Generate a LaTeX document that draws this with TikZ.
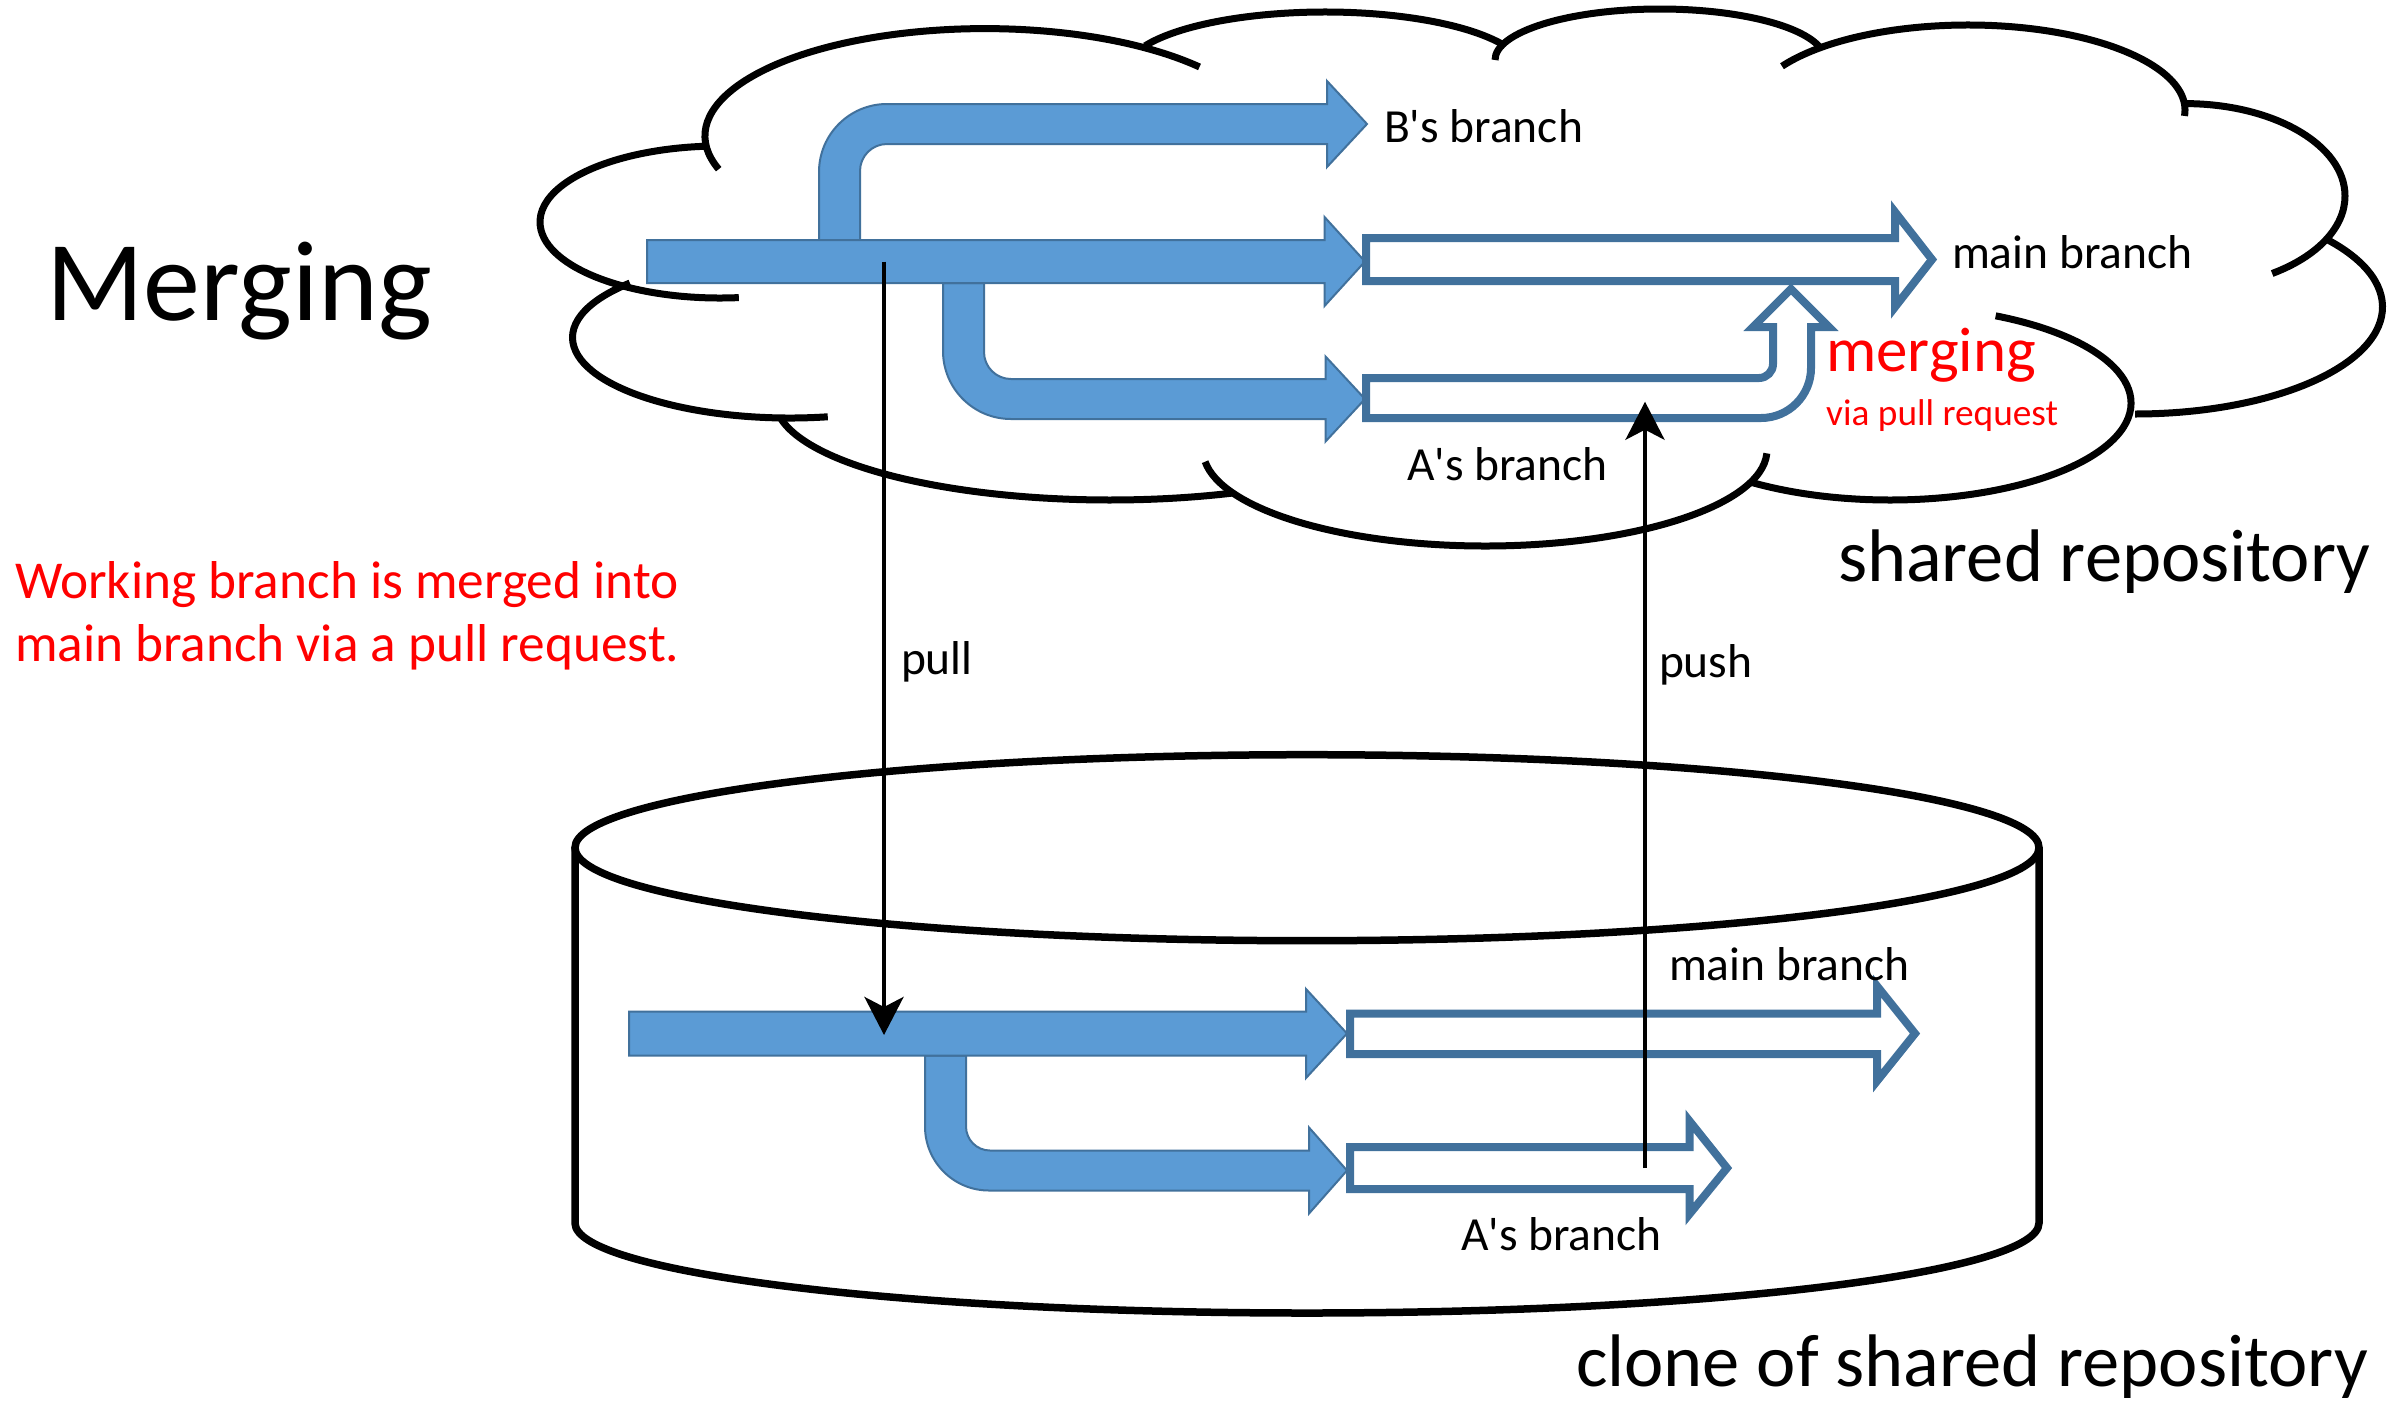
\documentclass[tikz,border=0pt]{standalone}
\usepackage{fontspec}
\setmainfont{Carlito}[Ligatures=TeXOff]
\usetikzlibrary{arrows.meta}
\definecolor{bluefill}{HTML}{5B9BD5}
\definecolor{blueline}{HTML}{41719C}
\begin{document}
\begin{tikzpicture}[x=1pt,y=-1pt,
  cloudline/.style={line width=7pt},
  bluearrow/.style={fill=bluefill, draw=blueline, line width=2pt, line join=miter},
  hollowarrow/.style={fill=white, draw=blueline, line width=8pt, line join=miter, miter limit=10},
  cylline/.style={line width=7.5pt},
  flowline/.style={line width=4.5pt, -{Stealth[length=38pt,width=39pt,inset=10pt]}},
  lbl/.style={anchor=base west, inner sep=0pt, outer sep=0pt, font=\fontsize{47.5}{56}\selectfont},
  biglbl/.style={anchor=base west, inner sep=0pt, outer sep=0pt, font=\fontsize{74.5}{88}\selectfont},
  notelbl/.style={anchor=base west, inner sep=0pt, outer sep=0pt, text=red, font=\fontsize{53.3}{63}\selectfont},
]
\useasboundingbox (0,0) rectangle (2404,1401);
\fill[white] (0,0) rectangle (2404,1401);

% ---------- cloud (shared repository) ----------
\draw[cloudline] (985,136) ++(162:280 and 107.4) arc[start angle=162,end angle=320,x radius=280,y radius=107.4];
\draw[cloudline] (1325,72) ++(205.8:200 and 60) arc[start angle=205.8,end angle=334.2,x radius=200,y radius=60];
\draw[cloudline] (1660,60) ++(180:165 and 51) arc[start angle=180,end angle=346,x radius=165,y radius=51];
\draw[cloudline] (1968,110) ++(211:217 and 85) arc[start angle=211,end angle=364,x radius=217,y radius=85];
\draw[cloudline] (2185,196) ++(270:160 and 92.4) arc[start angle=270,end angle=417,x radius=160,y radius=92.4];
\draw[cloudline] (2135,307) ++(320:247.5 and 107) arc[start angle=320,end angle=450,x radius=247.5,y radius=107];
\draw[cloudline] (1890,403) ++(-64:241 and 97) arc[start angle=-64,end angle=125.5,x radius=241,y radius=97];
\draw[cloudline] (1485,450) ++(2:282 and 96) arc[start angle=2,end angle=173,x radius=282,y radius=96];
\draw[cloudline] (1110,400) ++(68.6:335 and 100) arc[start angle=68.6,end angle=170,x radius=335,y radius=100];
\draw[cloudline] (790,337.5) ++(80:217.5 and 80.5) arc[start angle=80,end angle=222.6,x radius=217.5,y radius=80.5];
\draw[cloudline] (720,222) ++(84:180 and 76) arc[start angle=84,end angle=266,x radius=180,y radius=76];

% ---------- cylinder (clone) ----------
\draw[cylline] (1307,847.7) ellipse[x radius=732, y radius=93];
\draw[cylline] (575,847.7) -- (575,1223) arc[start angle=180,end angle=0,x radius=732,y radius=90] -- (2039,847.7);

% ---------- top blue arrows ----------
\draw[bluearrow] (819,240) -- (819,172) arc[start angle=180,end angle=270,radius=68]
  -- (1327,104) -- (1327,81) -- (1367,124) -- (1327,167) -- (1327,144) -- (887,144)
  arc[start angle=270,end angle=180,radius=27] -- (860,240) -- cycle;
\draw[bluearrow] (943,283) -- (943,351) arc[start angle=180,end angle=90,radius=68]
  -- (1325.5,419) -- (1325.5,441.5) -- (1365,399) -- (1325.5,356.5) -- (1325.5,379) -- (1011,379)
  arc[start angle=90,end angle=180,radius=27] -- (984,283) -- cycle;
\draw[bluearrow] (647,240) -- (1324.5,240) -- (1324.5,217) -- (1365,261.5) -- (1324.5,306) -- (1324.5,283) -- (647,283) -- cycle;

% ---------- top hollow arrows ----------
\draw[hollowarrow] (1366,238) -- (1895,238) -- (1895,212) -- (1932,259.5) -- (1895,307) -- (1895,281) -- (1366,281) -- cycle;
\draw[hollowarrow] (1366,378) -- (1759,378) arc[start angle=90,end angle=0,radius=14]
  -- (1773,327) -- (1753,327) -- (1791,289) -- (1829,327) -- (1811,327) -- (1811,368)
  arc[start angle=0,end angle=90,radius=50] -- (1366,418) -- cycle;

% ---------- bottom blue arrows ----------
\draw[bluearrow] (925,1055.5) -- (925,1126.5) arc[start angle=180,end angle=90,radius=64]
  -- (1309,1190.5) -- (1309,1213.5) -- (1347,1170.5) -- (1309,1127.5) -- (1309,1150.5) -- (990,1150.5)
  arc[start angle=90,end angle=180,radius=24] -- (966,1055.5) -- cycle;
\draw[bluearrow] (629,1011.5) -- (1306,1011.5) -- (1306,989) -- (1347,1033.5) -- (1306,1078) -- (1306,1055.5) -- (629,1055.5) -- cycle;

% ---------- bottom hollow arrows ----------
\draw[hollowarrow] (1350,1013.5) -- (1877,1013.5) -- (1877,986) -- (1915,1033.5) -- (1877,1081) -- (1877,1054) -- (1350,1054) -- cycle;
\draw[hollowarrow] (1350,1147) -- (1689.5,1147) -- (1689.5,1121) -- (1727,1168) -- (1689.5,1214) -- (1689.5,1189) -- (1350,1189) -- cycle;

% ---------- pull / push ----------
\coordinate (pullstart) at (884,261.5);
\coordinate (pullend) at (884,1035);
\coordinate (pushstart) at (1645,1168);
\coordinate (pushend) at (1645,401.7);
\draw[flowline] (pullstart) -- (pullend);
\draw[flowline] (pushstart) -- (pushend);

% ---------- texts ----------
\node[anchor=base west, inner sep=0pt, font=\fontsize{114}{130}\selectfont] (title) at (46,320) {Merging};
\node[notelbl] (note1) at (15,598.3) {Working branch is merged into};
\node[notelbl] (note2) at (15,661.7) {main branch via a pull request.};
\node[lbl] (bbranch) at (1384,142) {B's branch};
\node[lbl] (mainTop) at (1952,268) {main branch};
\node[lbl] (aTop) at (1407,480.4) {A's branch};
\node[anchor=base west, inner sep=0pt, text=red, font=\fontsize{63}{74}\selectfont] (merging) at (1826,371.4) {merging};
\node[anchor=base west, inner sep=0pt, text=red, font=\fontsize{37.3}{44}\selectfont] (viapr) at (1826,425) {via pull request};
\node[biglbl] (shared) at (1838,581.7) {shared repository};
\node[lbl] (pulllbl) at (901,674.6) {pull};
\node[lbl] (pushlbl) at (1659,677.6) {push};
\node[lbl] (mainBot) at (1669,980) {main branch};
\node[lbl] (aBot) at (1461,1250) {A's branch};
\node[biglbl] (clone) at (1576,1386.7) {clone of shared repository};
\end{tikzpicture}
\end{document}
